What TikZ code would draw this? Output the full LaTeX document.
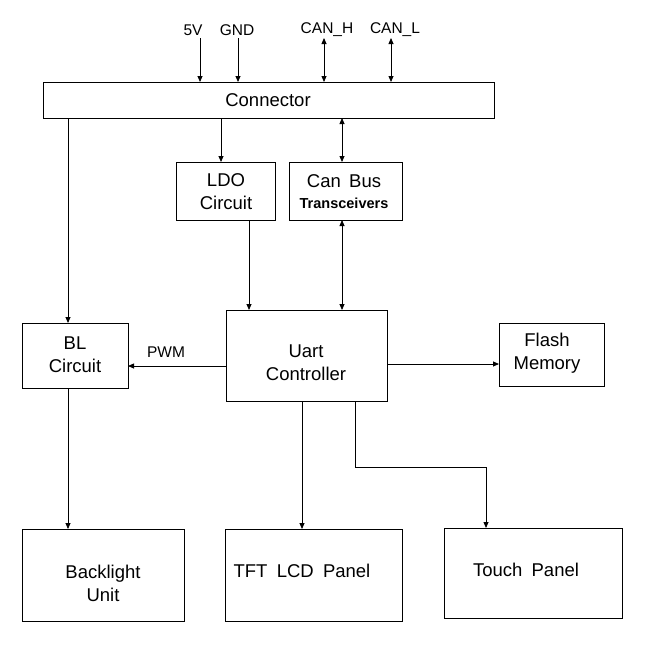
\documentclass[tikz,border=0pt]{standalone}
\usepackage{fontspec}
\setmainfont{Liberation Sans}
\usetikzlibrary{arrows.meta}
\begin{document}
\begin{tikzpicture}[x=1pt,y=-1pt,
  box/.style={draw=black,line width=0.8pt,minimum width=#1,inner sep=0pt,outer sep=0pt},
  txt/.style={font=\fontsize{18.5}{23}\selectfont,align=center,inner sep=0pt},
  sig/.style={font=\fontsize{15.5}{18}\selectfont,inner sep=0pt},
  arr/.style={line width=0.8pt,-{Triangle[length=6pt,width=5pt]}},
  darr/.style={line width=0.8pt,{Triangle[length=6pt,width=5pt]}-{Triangle[length=6pt,width=5pt]}}]
\useasboundingbox (0,0) rectangle (650,645);
% boxes
\node[box=451pt,minimum height=36pt] (conn) at (268.5,100) {};
\node[box=99pt,minimum height=58pt] (ldo) at (225.5,191) {};
\node[box=113pt,minimum height=58pt] (can) at (345.5,191) {};
\node[box=106pt,minimum height=65pt] (bl) at (75,355.5) {};
\node[box=161pt,minimum height=91pt] (uart) at (306.5,355.5) {};
\node[box=105pt,minimum height=63pt] (flash) at (551.5,354.5) {};
\node[box=162pt,minimum height=92pt] (blu) at (103,575) {};
\node[box=177pt,minimum height=92pt] (tft) at (313.5,575) {};
\node[box=178pt,minimum height=90pt] (touch) at (533,573) {};
% texts
\node[txt] (tconn) at (268,100) {Connector};
\node[txt] (tldo) at (226,192) {LDO\\Circuit};
\node[txt] (tcan) at (344,192) {Can\hspace{0.45em}Bus\\[-2pt]{\fontsize{14.5}{16}\selectfont\bfseries Transceivers}};
\node[txt] (tbl) at (75,355) {BL\\Circuit};
\node[txt] (tuart) at (306,363) {Uart\\Controller};
\node[txt] (tflash) at (547,353) {Flash\\Memory};
\node[txt] (tblu) at (103,583) {Backlight\\Unit};
\node[txt] (ttft) at (302,571) {TFT\hspace{0.5em}LCD\hspace{0.5em}Panel};
\node[txt] (ttouch) at (526,570) {Touch\hspace{0.5em}Panel};
\node[sig] (pwm) at (166,352) {PWM};
% signal labels
\node[sig] (l5v) at (193,30) {5V};
\node[sig] (lgnd) at (237,30) {GND};
\node[sig] (lcanh) at (327,30) {CAN\_H};
\node[sig] (lcanl) at (395,30) {CAN\_L};
% x positions
\coordinate (p5) at (200,38);
\coordinate (pg) at (238,38);
\coordinate (ph) at (324,38);
\coordinate (pl) at (391,38);
\coordinate (x68) at (68,0);
\coordinate (x221) at (221,0);
\coordinate (x342) at (342,0);
\coordinate (x249) at (249,0);
\coordinate (x302) at (302,0);
\coordinate (x355) at (355,0);
\coordinate (x486) at (486,0);
\coordinate (y366) at (0,366);
\coordinate (y364) at (0,364);
\coordinate (y467) at (0,467);
% connectors
\draw[arr] (p5) -- (p5 |- conn.north);
\draw[arr] (pg) -- (pg |- conn.north);
\draw[darr] (ph) -- (ph |- conn.north);
\draw[darr] (pl) -- (pl |- conn.north);
\draw[arr] (conn.south -| x68) -- (bl.north -| x68);
\draw[arr] (conn.south -| x221) -- (ldo.north -| x221);
\draw[darr] (conn.south -| x342) -- (can.north -| x342);
\draw[arr] (ldo.south -| x249) -- (uart.north -| x249);
\draw[darr] (can.south -| x342) -- (uart.north -| x342);
\draw[arr] (uart.west |- y366) -- (bl.east |- y366);
\draw[arr] (uart.east |- y364) -- (flash.west |- y364);
\draw[arr] (bl.south -| x68) -- (blu.north -| x68);
\draw[arr] (uart.south -| x302) -- (tft.north -| x302);
\draw[arr] (uart.south -| x355) -- (x355 |- y467) -- (x486 |- y467) -- (touch.north -| x486);
\end{tikzpicture}
\end{document}
